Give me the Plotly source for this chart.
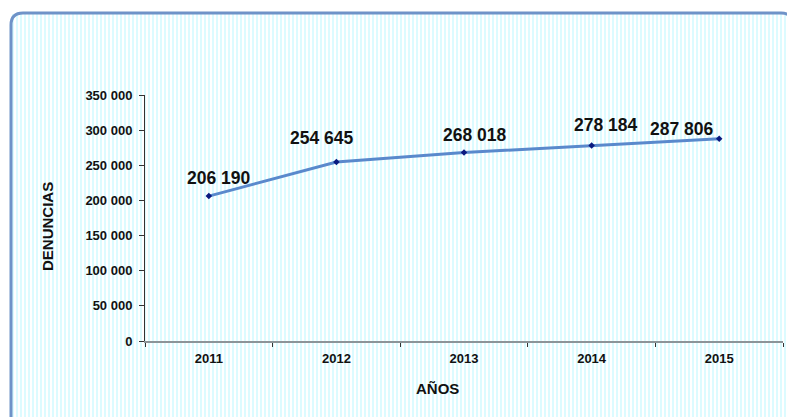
import plotly.graph_objects as go

years = ["2011", "2012", "2013", "2014", "2015"]
denuncias = [206190, 254645, 268018, 278184, 287806]
value_labels = ["206 190", "254 645", "268 018", "278 184", "287 806"]
y_ticks = [0, 50000, 100000, 150000, 200000, 250000, 300000, 350000]
y_tick_labels = ["0", "50 000", "100 000", "150 000", "200 000", "250 000", "300 000", "350 000"]
label_xshift = [10, -14, 11, 14, -37]
label_yshift = [18, 24, 18, 20, 10]

W, H = 787, 417
L, R, T, B = 145, 4, 95, 76
pw, ph = W - L - R, H - T - B

def px(x):
    return (x - L) / pw

def py(y):
    return (H - B - y) / ph

font = "Liberation Sans, Arial, sans-serif"

fig = go.Figure()
fig.add_trace(go.Scatter(
    x=years, y=denuncias, mode="lines+markers",
    line=dict(color="#5a89cc", width=3),
    marker=dict(symbol="diamond", size=5, color="#0a1a80"),
    hoverinfo="skip", showlegend=False, cliponaxis=False,
))

shapes = []
# vertical stripe background
x = 12
while x < W:
    shapes.append(dict(type="rect", xref="paper", yref="paper",
                       x0=px(x), x1=px(x + 2), y0=py(H), y1=py(14),
                       fillcolor="#dcfbff", line=dict(width=0), layer="below"))
    x += 4
# rounded border
r = 12
x0, y0, x1, y1 = 11, 13, 793, 430
path = (f"M {px(x0)},{py(y1)} L {px(x0)},{py(y0 + r)} "
        f"Q {px(x0)},{py(y0)} {px(x0 + r)},{py(y0)} "
        f"L {px(x1 - r)},{py(y0)} Q {px(x1)},{py(y0)} {px(x1)},{py(y0 + r)} "
        f"L {px(x1)},{py(y1)}")
shapes.append(dict(type="path", xref="paper", yref="paper", path=path,
                   line=dict(color="#6f93c8", width=3), layer="below"))

annotations = []
for i, (v, t, dx, dy) in enumerate(zip(denuncias, value_labels, label_xshift, label_yshift)):
    annotations.append(dict(xref="x", yref="y", x=i, y=v, text=f"<b>{t}</b>", showarrow=False,
                            xshift=dx, yshift=dy, font=dict(family=font, size=17.5, color="#111")))
# axis titles
annotations.append(dict(xref="paper", yref="paper", x=px(437), y=py(388), text="<b>AÑOS</b>",
                        showarrow=False, xanchor="center", yanchor="middle",
                        font=dict(family=font, size=15, color="#111")))
annotations.append(dict(xref="paper", yref="paper", x=px(47), y=py(227), text="<b>DENUNCIAS</b>",
                        showarrow=False, xanchor="center", yanchor="middle", textangle=-90,
                        font=dict(family=font, size=15, color="#111")))

fig.update_layout(
    width=W, height=H,
    margin=dict(l=L, r=R, t=T, b=B),
    paper_bgcolor="white", plot_bgcolor="rgba(0,0,0,0)",
    shapes=shapes, annotations=annotations,
    font=dict(family=font, color="#111"),
    xaxis=dict(
        type="category", range=[-0.5, 4.5],
        tickvals=years, ticktext=[f"<b>{y}</b>" for y in years],
        showline=True, linecolor="#8c9498", linewidth=2,
        ticks="outside", ticklen=4, tickcolor="#333", tickson="boundaries",
        ticklabelstandoff=4,
        showgrid=False, zeroline=False,
        tickfont=dict(family=font, size=13, color="#111"),
    ),
    yaxis=dict(
        range=[0, 350000], tickvals=y_ticks, ticktext=[f"<b>{t}</b>" for t in y_tick_labels],
        showline=True, linecolor="#333", linewidth=1,
        ticks="outside", ticklen=5, tickcolor="#333",
        ticklabelstandoff=4,
        showgrid=False, zeroline=False,
        tickfont=dict(family=font, size=13, color="#111"),
    ),
)

fig.write_html("out.html", config={"displayModeBar": False},
               post_script="document.body.style.margin='0';document.body.style.padding='0';")
